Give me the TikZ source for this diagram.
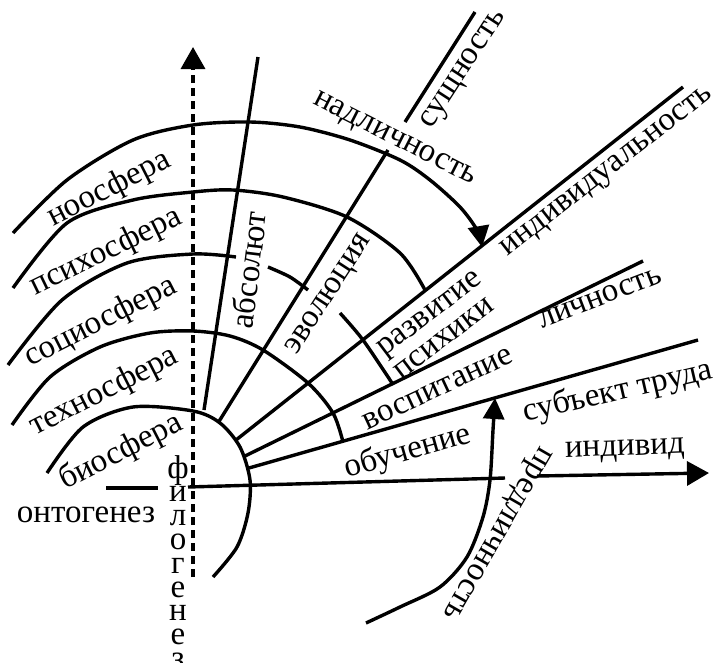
\documentclass[tikz,border=0pt]{standalone}
\usepackage{fontspec}
\setmainfont{Liberation Serif}
\usetikzlibrary{arrows.meta}
\begin{document}
\begin{tikzpicture}[x=1pt,y=-1pt,line width=3.4pt,
  every node/.style={font=\fontsize{33}{29}\selectfont,inner sep=0pt},
  bigtip/.style={-{Triangle[length=22pt,width=24pt]}},
  arctip/.style={-{Triangle[length=21pt,width=21pt]}}]
\useasboundingbox (0,0) rectangle (717,662);
% axes
\draw[dash pattern=on 8pt off 5pt,bigtip] (193,577) -- (193,47);
\draw (106,488) -- (158,488);
\draw (188,487) -- (505,478);
\draw[bigtip] (537,476) -- (709,473);
% rays
\draw (204,410) -- (258,57);
\draw (218,423) -- (388,150);
\draw (405,122) -- (475,12);
\draw (236,440) -- (683,87);
\draw (245,456) -- (643,261);
\draw (249,468) -- (698,340);
% spheres
\draw[arctip] plot[smooth] coordinates {(13,233) (67,180) (133,140) (193,125) (250,122) (300,127) (350,140) (400,160) (430,180) (460,207) (477,230) (482,247)};
\draw plot[smooth] coordinates {(13,288) (67,223) (133,200) (193,192) (233,190) (283,197) (347,217) (400,253) (425,290)};
\draw plot[smooth] coordinates {(8,365) (62,300) (127,263) (193,254) (236,257)};
\draw plot[smooth] coordinates {(268,267) (290,277) (308,290)};
\draw plot[smooth] coordinates {(340,313) (363,340) (392,383)};
\draw plot[smooth] coordinates {(12,425) (50,377) (100,347) (150,333) (193,331) (230,336) (263,350) (308,383) (333,413) (343,442)};
\draw plot[smooth] coordinates {(47,473) (83,427) (133,407) (193,411) (220,423) (240,447) (250,480) (248,513) (237,547) (213,577)};
\draw[arctip] plot[smooth] coordinates {(366,623) (400,607) (440,587) (467,557) (483,517) (490,480) (493,430) (495,398)};
% labels
\node[rotate=27] (noo) at (109,189) {ноосфера};
\node[rotate=26] (psy) at (106,252) {психосфера};
\node[rotate=27] (soc) at (101,322) {социосфера};
\node[rotate=27] (tech) at (104,392) {техносфера};
\node[rotate=27] (bio) at (121,452) {биосфера};
\node (onto) at (86,515) {онтогенез};
\node[align=center,font=\fontsize{33}{23.8}\selectfont] (phylo) at (178,562) {ф\\и\\л\\о\\г\\е\\н\\е\\з};
\node[rotate=83] (abs) at (248,270) {абсолют};
\node[rotate=57] (evo) at (330,295) {эволюция};
\node[rotate=37,align=left] (razv) at (438,325) {развитие\\психики};
\node[rotate=25] (vosp) at (438,389) {воспитание};
\node[rotate=16] (obuch) at (408,452) {обучение};
\node[rotate=13] (subj) at (618,392) {субъект труда};
\node[rotate=2] (indiv) at (625,451) {индивид};
\node[rotate=21] (lich) at (600,298) {личность};
\node[rotate=38] (indl) at (608,173) {индивидуальность};
\node[rotate=57] (such) at (465,70) {сущность};
\node[rotate=-27] (nadl) at (394,140) {надличность};
\node[rotate=-120] (predl) at (495,532) {предличность};
\end{tikzpicture}
\end{document}
